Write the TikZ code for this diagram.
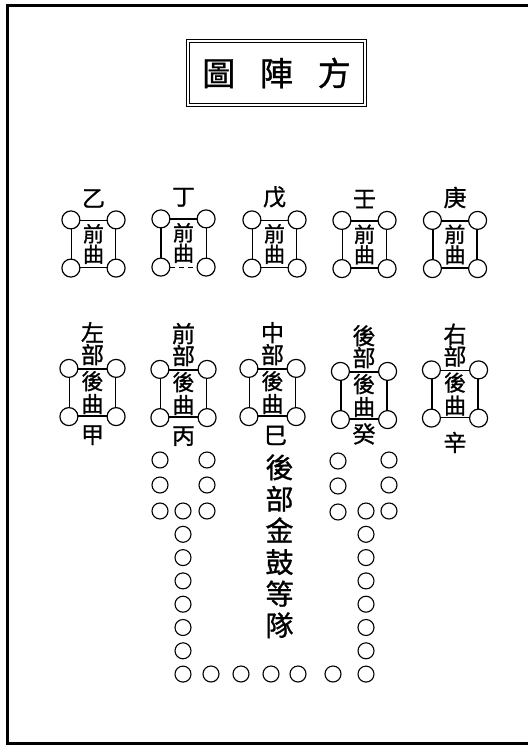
\documentclass[tikz,border=0pt]{standalone}
\usepackage{fontspec}
\newfontfamily\cjk{Noto Sans CJK TC}[FakeBold=1]
\usetikzlibrary{positioning}

\begin{document}
\begin{tikzpicture}[x=1pt,y=-1pt,
  unit/.style={rectangle,draw,line width=1.2pt,minimum width=44pt,minimum height=47pt,inner sep=0pt,align=center},
  qian/.style={unit,font=\cjk\fontsize{21}{20.5}\selectfont},
  hou/.style={unit,minimum width=46pt,font=\cjk\fontsize{22}{23}\selectfont},
  dot/.style={circle,draw,fill=white,line width=1.2pt,minimum size=18pt,inner sep=0pt},
  bead/.style={circle,draw,line width=1.1pt,minimum size=16pt,inner sep=0pt},
  tag/.style={inner sep=0pt,align=center,font=\cjk\fontsize{23}{22}\selectfont},
  tall/.style={inner sep=0pt,align=center,font=\cjk\fontsize{28}{31.6}\selectfont}
]
  \useasboundingbox (0,0) rectangle (528,745);
  \draw[line width=3pt] (528,5) -- (7.5,5) -- (7.5,743) -- (528,743);

  % title
  \node[draw,double,line width=0.7pt,double distance=2.4pt,minimum width=177pt,minimum height=64pt,
    inner sep=0pt,font=\cjk\fontsize{33}{33}\selectfont] (title) at (276.5,73) {圖\hspace{0.75em}陣\hspace{0.75em}方};

  % front units
  \node[qian] (yi) at (93.5,244) {前\\曲};
  \node[qian,draw=none] (ding) at (183.5,243) {前\\曲};
  \node[qian] (wu) at (274.5,244) {前\\曲};
  \node[qian] (ren) at (364.5,244.5) {前\\曲};
  \node[qian] (geng) at (455,244.5) {前\\曲};
  \draw[line width=1.2pt] (ding.south west) -- (ding.north west) -- (ding.north east) -- (ding.south east);
  \draw[line width=1.2pt,dash pattern=on 5pt off 4pt] (ding.south west) -- (ding.south east);
  \node[tag,above=12pt of yi] (yit) {乙};
  \node[tag,above=12pt of ding] (dingt) {丁};
  \node[tag,above=12pt of wu] (wut) {戊};
  \node[tag,above=12pt of ren] (rent) {壬};
  \node[tag,above=12pt of geng] (gengt) {庚};

  % rear units
  \node[hou] (jia) at (92.5,392.5) {後\\曲};
  \node[hou] (bing) at (183.5,393.5) {後\\曲};
  \node[hou] (si) at (272.5,392.5) {後\\曲};
  \node[hou] (gui) at (364,395.5) {後\\曲};
  \node[hou] (xin) at (455,394) {後\\曲};
  \node[tag,above=3pt of jia] (zuo) {左\\部};
  \node[tag,above=3pt of bing] (qianb) {前\\部};
  \node[tag,above=3pt of si] (zhong) {中\\部};
  \node[tag,above=3pt of gui] (houb) {後\\部};
  \node[tag,above=3pt of xin] (you) {右\\部};
  \node[tag,below=8.5pt of jia] (jiat) {甲};
  \node[tag,below=8.5pt of bing] (bingt) {丙};
  \node[tag,below=9pt of si,xshift=3pt] (sit) {巳};
  \node[tag,below=3.5pt of gui] (guit) {癸};
  \node[tag,below=13.5pt of xin] (xint) {辛};
  \node[tall,below=9pt of sit,xshift=4pt] (jingu) {後\\部\\金\\鼓\\等\\隊};

  % corner rings
  \foreach \b in {yi,ding,wu,ren,geng,jia,bing,si,gui,xin}
    \foreach \c/\k in {north west/nw,north east/ne,south west/sw,south east/se}
      \node[dot] (\b\k) at (\b.\c) {};

  % rear troops
  \foreach \i/\y in {1/460,2/485,3/511} {
    \node[bead] (la\i) at (160,\y) {};
    \node[bead] (lb\i) at (207,\y) {};
    \node[bead] (ra\i) at (338,\y+1) {};
    \node[bead] (rb\i) at (389,\y) {};
  }
  \foreach \i in {1,...,8} {
    \node[bead] (lc\i) at (183,{511+23.3*(\i-1)}) {};
    \node[bead] (rc\i) at (366,{511+23.3*(\i-1)}) {};
  }
  \foreach \i/\x in {1/211,2/241,3/271,4/298,5/333}
    \node[bead] (bt\i) at (\x,674) {};
\end{tikzpicture}
\end{document}
